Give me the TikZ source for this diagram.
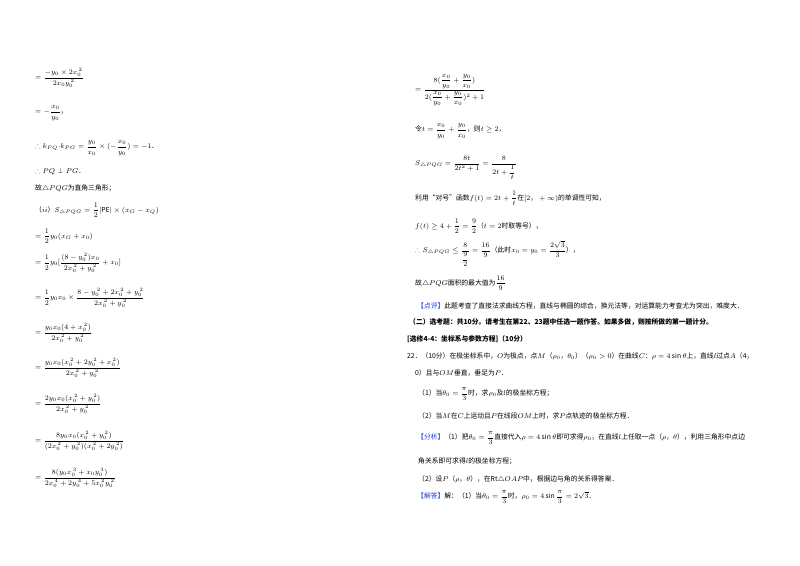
\documentclass[tikz,border=0pt]{standalone}
\usepackage{amsmath,amssymb}
\usepackage{fontspec}
\setmainfont{Noto Sans CJK SC}
\definecolor{blu}{RGB}{30,60,220}
\tikzset{ln/.style={anchor=west,inner sep=0pt,font=\fontsize{6.8}{8}\selectfont},
 bl/.style={ln,font=\fontsize{6.8}{8}\selectfont\bfseries}}
\newcommand{\kb}[1]{{\color{blu}【#1】}}
\begin{document}
\begin{tikzpicture}[x=1pt,y=-1pt]
\useasboundingbox (0,0) rectangle (800,565);
\fill[white] (0,0) rectangle (800,565);
% left column
\node[ln] (l1) at (35,78) {$=\dfrac{-y_0\times 2x_0^{\,2}}{2x_0y_0^{\,2}}$};
\node[ln] (l2) at (35,113) {$=-\dfrac{x_0}{y_0}$，};
\node[ln] (l3) at (35,148) {$\therefore k_{PQ}{\cdot}k_{PG}=\dfrac{y_0}{x_0}\times(-\dfrac{x_0}{y_0})=-1$．};
\node[ln] (l4) at (35,172) {$\therefore PQ\perp PG$．};
\node[ln] (l5) at (35,188) {故$\triangle PQG$为直角三角形；};
\node[ln] (l6) at (35,210) {（$ii$）$S_{\triangle PQG}=\dfrac12|\mathrm{PE}|\times(x_G-x_Q)$};
\node[ln] (l7) at (35,236) {$=\dfrac12y_0(x_G+x_0)$};
\node[ln] (l8) at (35,263) {$=\dfrac12y_0[\dfrac{(8-y_0^{\,2})x_0}{2x_0^{\,2}+y_0^{\,2}}+x_0]$};
\node[ln] (l9) at (35,298) {$=\dfrac12y_0x_0\times\dfrac{8-y_0^{\,2}+2x_0^{\,2}+y_0^{\,2}}{2x_0^{\,2}+y_0^{\,2}}$};
\node[ln] (l10) at (35,333) {$=\dfrac{y_0x_0(4+x_0^{\,2})}{2x_0^{\,2}+y_0^{\,2}}$};
\node[ln] (l11) at (35,368) {$=\dfrac{y_0x_0(x_0^{\,2}+2y_0^{\,2}+x_0^{\,2})}{2x_0^{\,2}+y_0^{\,2}}$};
\node[ln] (l12) at (35,404) {$=\dfrac{2y_0x_0(x_0^{\,2}+y_0^{\,2})}{2x_0^{\,2}+y_0^{\,2}}$};
\node[ln] (l13) at (35,441) {$=\dfrac{8y_0x_0(x_0^{\,2}+y_0^{\,2})}{(2x_0^{\,2}+y_0^{\,2})(x_0^{\,2}+2y_0^{\,2})}$};
\node[ln] (l14) at (35,478) {$=\dfrac{8(y_0x_0^{\,3}+x_0y_0^{\,3})}{2x_0^{\,4}+2y_0^{\,4}+5x_0^{\,2}y_0^{\,2}}$};
% right column
\node[ln] (r1) at (415,90) {$=\dfrac{8(\dfrac{x_0}{y_0}+\dfrac{y_0}{x_0})}{2(\dfrac{x_0}{y_0}+\dfrac{y_0}{x_0})^2+1}$};
\node[ln] (r2) at (415,131) {令$t=\dfrac{x_0}{y_0}+\dfrac{y_0}{x_0}$，则$t\geq2$，};
\node[ln] (r3) at (415,168) {$S_{\triangle PQG}=\dfrac{8t}{2t^2+1}=\dfrac{8}{2t+\dfrac1t}$};
\node[ln] (r4) at (415,198) {利用“对号”函数$f(t)=2t+\dfrac1t$在$[2，+\infty)$的单调性可知，};
\node[ln] (r5) at (415,226) {$f(t)\geq4+\dfrac12=\dfrac92$（$t=2$时取等号），};
\node[ln] (r6) at (415,254) {$\therefore S_{\triangle PQG}\leq\dfrac{8}{\dfrac92}=\dfrac{16}{9}$（此时$x_0=y_0=\dfrac{2\sqrt3}{3}$），};
\node[ln] (r7) at (415,283) {故$\triangle PQG$面积的最大值为$\dfrac{16}{9}$};
\node[ln] (r8) at (417,306) {\kb{点评}此题考查了直接法求曲线方程，直线与椭圆的综合，换元法等，对运算能力考查尤为突出，难度大．};
\node[bl] (r9) at (409,322) {（二）选考题：共10分。请考生在第22、23题中任选一题作答。如果多做，则按所做的第一题计分。};
\node[bl] (r10) at (407,339) {[选修4-4：坐标系与参数方程]（10分）};
\node[ln] (r11) at (407,356) {22．（10分）在极坐标系中，$O$为极点，点$M$（$\rho_0$，$\theta_0$）（$\rho_0>0$）在曲线$C$：$\rho=4\sin\theta$上，直线$l$过点$A$（4，};
\node[ln] (r12) at (415,373) {0）且与$OM$垂直，垂足为$P$．};
\node[ln] (r13) at (418,394) {（1）当$\theta_0=\dfrac{\pi}{3}$时，求$\rho_0$及$l$的极坐标方程；};
\node[ln] (r14) at (418,416) {（2）当$M$在$C$上运动且$P$在线段$OM$上时，求$P$点轨迹的极坐标方程．};
\node[ln] (r15) at (417,438) {\kb{分析}（1）把$\theta_0=\dfrac{\pi}{3}$直接代入$\rho=4\sin\theta$即可求得$\rho_0$，在直线$l$上任取一点（$\rho$，$\theta$），利用三角形中点边};
\node[ln] (r16) at (418,461) {角关系即可求得$l$的极坐标方程；};
\node[ln] (r17) at (418,479) {（2）设$P$（$\rho$，$\theta$），在Rt$\triangle OAP$中，根据边与角的关系得答案．};
\node[ln] (r18) at (417,497) {\kb{解答}解：（1）当$\theta_0=\dfrac{\pi}{3}$时，$\rho_0=4\sin\dfrac{\pi}{3}=2\sqrt3$．};
\end{tikzpicture}
\end{document}
